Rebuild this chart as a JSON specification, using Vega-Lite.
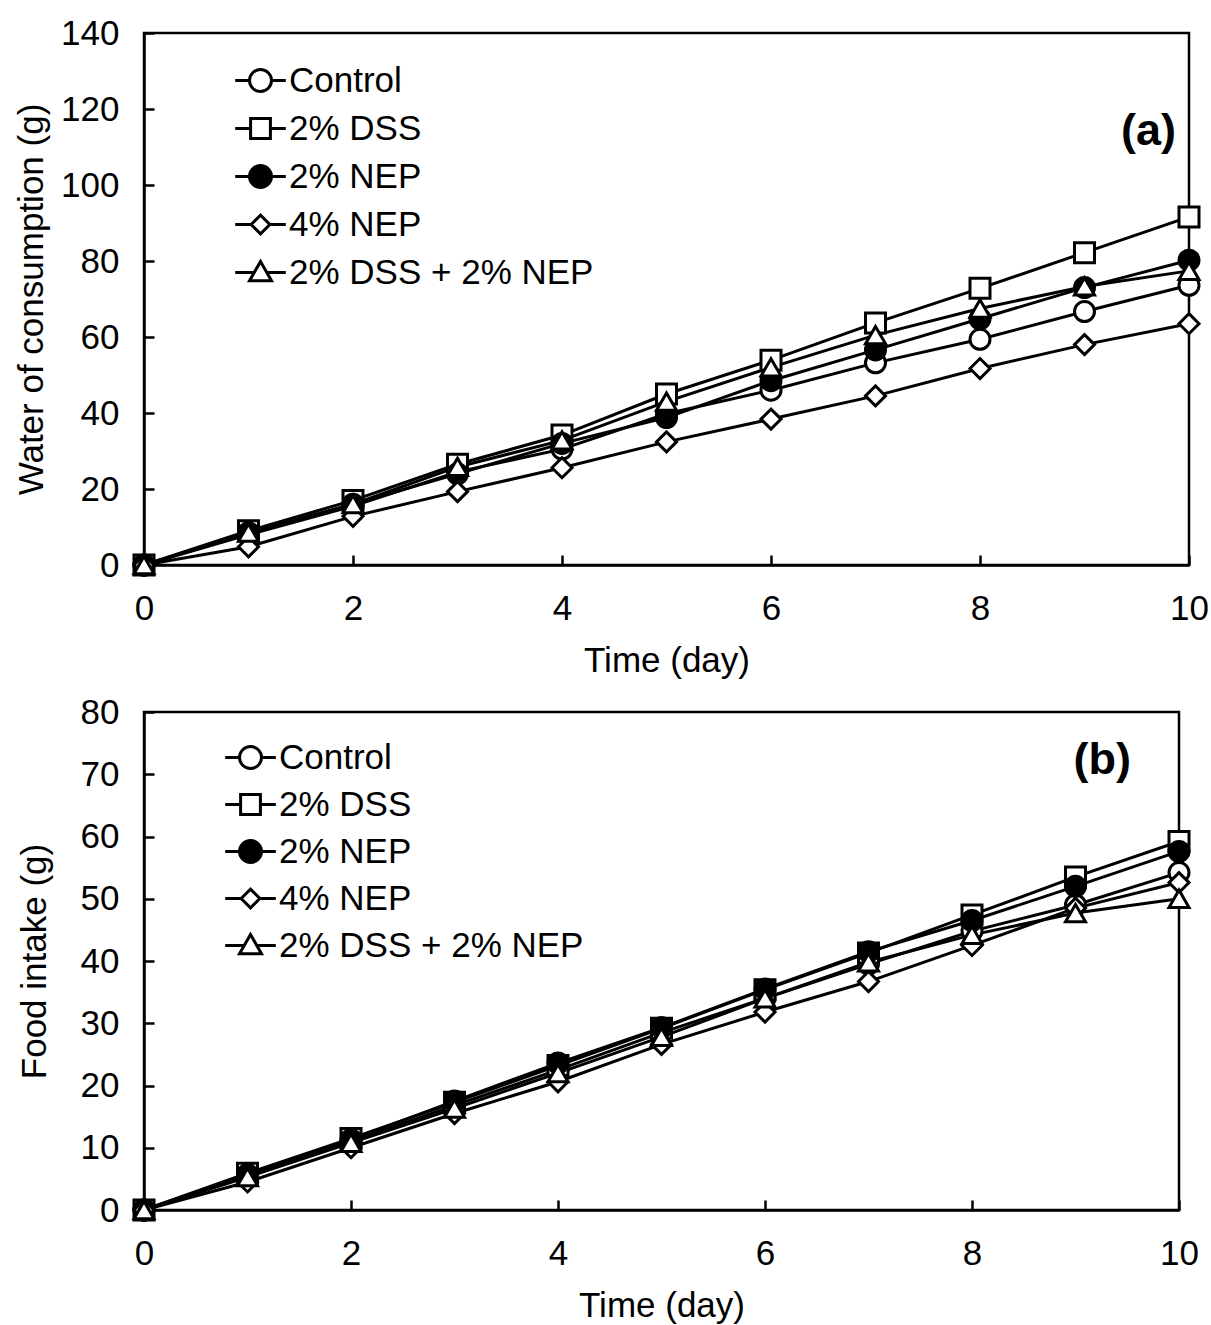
{
  "$schema": "https://vega.github.io/schema/vega-lite/v6.json",
  "padding": {"left": 13, "top": 14, "right": 0, "bottom": 0},
  "background": "white",
  "config": {
    "font": "Liberation Sans",
    "view": {"stroke": "black", "strokeWidth": 2.5},
    "axis": {
      "grid": false,
      "domainColor": "black", "domainWidth": 2.5,
      "tickColor": "black", "tickWidth": 2.5, "tickSize": -10,
      "labelFontSize": 35, "labelColor": "black",
      "titleFontSize": 35, "titleFontWeight": "normal", "titleColor": "black"
    },
    "axisX": {"labelPadding": 36, "titlePadding": 17, "labelFlush": false, "format": "d"},
    "axisY": {"labelPadding": 35, "titlePadding": 11}
  },
  "datasets": {
    "water": [
      {"day":0,"group":"Control","value":0},{"day":1,"group":"Control","value":8},{"day":2,"group":"Control","value":15.5},{"day":3,"group":"Control","value":24.5},{"day":4,"group":"Control","value":30.5},{"day":5,"group":"Control","value":39.8},{"day":6,"group":"Control","value":46},{"day":7,"group":"Control","value":53.2},{"day":8,"group":"Control","value":59.4},{"day":9,"group":"Control","value":66.7},{"day":10,"group":"Control","value":73.6},
      {"day":0,"group":"2% DSS","value":0},{"day":1,"group":"2% DSS","value":9},{"day":2,"group":"2% DSS","value":17},{"day":3,"group":"2% DSS","value":26.5},{"day":4,"group":"2% DSS","value":34.2},{"day":5,"group":"2% DSS","value":45},{"day":6,"group":"2% DSS","value":53.9},{"day":7,"group":"2% DSS","value":63.7},{"day":8,"group":"2% DSS","value":72.8},{"day":9,"group":"2% DSS","value":82.2},{"day":10,"group":"2% DSS","value":91.6},
      {"day":0,"group":"2% NEP","value":0},{"day":1,"group":"2% NEP","value":8.5},{"day":2,"group":"2% NEP","value":16},{"day":3,"group":"2% NEP","value":24},{"day":4,"group":"2% NEP","value":32},{"day":5,"group":"2% NEP","value":38.8},{"day":6,"group":"2% NEP","value":48.5},{"day":7,"group":"2% NEP","value":56.6},{"day":8,"group":"2% NEP","value":64.8},{"day":9,"group":"2% NEP","value":73},{"day":10,"group":"2% NEP","value":80.2},
      {"day":0,"group":"4% NEP","value":0},{"day":1,"group":"4% NEP","value":4.8},{"day":2,"group":"4% NEP","value":12.8},{"day":3,"group":"4% NEP","value":19.3},{"day":4,"group":"4% NEP","value":25.6},{"day":5,"group":"4% NEP","value":32.4},{"day":6,"group":"4% NEP","value":38.4},{"day":7,"group":"4% NEP","value":44.5},{"day":8,"group":"4% NEP","value":51.7},{"day":9,"group":"4% NEP","value":58},{"day":10,"group":"4% NEP","value":63.5},
      {"day":0,"group":"2% DSS + 2% NEP","value":0},{"day":1,"group":"2% DSS + 2% NEP","value":8.5},{"day":2,"group":"2% DSS + 2% NEP","value":16},{"day":3,"group":"2% DSS + 2% NEP","value":25.8},{"day":4,"group":"2% DSS + 2% NEP","value":32.8},{"day":5,"group":"2% DSS + 2% NEP","value":43},{"day":6,"group":"2% DSS + 2% NEP","value":52},{"day":7,"group":"2% DSS + 2% NEP","value":60.5},{"day":8,"group":"2% DSS + 2% NEP","value":67.5},{"day":9,"group":"2% DSS + 2% NEP","value":73.3},{"day":10,"group":"2% DSS + 2% NEP","value":77.4}
    ],
    "food": [
      {"day":0,"group":"Control","value":0},{"day":1,"group":"Control","value":5.5},{"day":2,"group":"Control","value":11},{"day":3,"group":"Control","value":16.8},{"day":4,"group":"Control","value":22.5},{"day":5,"group":"Control","value":28.5},{"day":6,"group":"Control","value":34},{"day":7,"group":"Control","value":39.5},{"day":8,"group":"Control","value":44.8},{"day":9,"group":"Control","value":49},{"day":10,"group":"Control","value":54.2},
      {"day":0,"group":"2% DSS","value":0},{"day":1,"group":"2% DSS","value":5.9},{"day":2,"group":"2% DSS","value":11.5},{"day":3,"group":"2% DSS","value":17.3},{"day":4,"group":"2% DSS","value":23.2},{"day":5,"group":"2% DSS","value":29.2},{"day":6,"group":"2% DSS","value":35.4},{"day":7,"group":"2% DSS","value":41.3},{"day":8,"group":"2% DSS","value":47.4},{"day":9,"group":"2% DSS","value":53.5},{"day":10,"group":"2% DSS","value":59.2},
      {"day":0,"group":"2% NEP","value":0},{"day":1,"group":"2% NEP","value":5.7},{"day":2,"group":"2% NEP","value":11.3},{"day":3,"group":"2% NEP","value":17.5},{"day":4,"group":"2% NEP","value":23.6},{"day":5,"group":"2% NEP","value":29.3},{"day":6,"group":"2% NEP","value":35.5},{"day":7,"group":"2% NEP","value":41.5},{"day":8,"group":"2% NEP","value":46.5},{"day":9,"group":"2% NEP","value":52},{"day":10,"group":"2% NEP","value":57.6},
      {"day":0,"group":"4% NEP","value":0},{"day":1,"group":"4% NEP","value":4.5},{"day":2,"group":"4% NEP","value":10},{"day":3,"group":"4% NEP","value":15.5},{"day":4,"group":"4% NEP","value":20.6},{"day":5,"group":"4% NEP","value":26.6},{"day":6,"group":"4% NEP","value":31.8},{"day":7,"group":"4% NEP","value":36.7},{"day":8,"group":"4% NEP","value":42.5},{"day":9,"group":"4% NEP","value":48.5},{"day":10,"group":"4% NEP","value":52.6},
      {"day":0,"group":"2% DSS + 2% NEP","value":0},{"day":1,"group":"2% DSS + 2% NEP","value":5.3},{"day":2,"group":"2% DSS + 2% NEP","value":10.8},{"day":3,"group":"2% DSS + 2% NEP","value":16.3},{"day":4,"group":"2% DSS + 2% NEP","value":22},{"day":5,"group":"2% DSS + 2% NEP","value":27.8},{"day":6,"group":"2% DSS + 2% NEP","value":34},{"day":7,"group":"2% DSS + 2% NEP","value":39.8},{"day":8,"group":"2% DSS + 2% NEP","value":44.2},{"day":9,"group":"2% DSS + 2% NEP","value":47.7},{"day":10,"group":"2% DSS + 2% NEP","value":50}
    ]
  },
  "vconcat": [
    {
      "width": 1045, "height": 532,
      "title": {"text": "(a)", "anchor": "end", "frame": "group", "offset": -174, "dx": -13, "fontSize": 45, "fontWeight": "bold", "baseline": "alphabetic", "color": "black"},
      "data": {"name": "water"},
      "layer": [
        {
          "mark": {"type": "line", "stroke": "black", "strokeWidth": 3, "clip": false},
          "encoding": {
            "x": {"field": "day", "type": "quantitative", "scale": {"domain": [0, 10], "nice": false}, "axis": {"values": [0, 2, 4, 6, 8, 10], "title": "Time (day)"}},
            "y": {"field": "value", "type": "quantitative", "scale": {"domain": [0, 140], "nice": false}, "axis": {"values": [0, 20, 40, 60, 80, 100, 120, 140], "title": "Water of consumption (g)"}},
            "detail": {"field": "group", "type": "nominal"}
          }
        },
        {
          "mark": {"type": "point", "filled": true, "stroke": "black", "strokeWidth": 3, "size": 400, "opacity": 1, "clip": false},
          "encoding": {
            "x": {"field": "day", "type": "quantitative"},
            "y": {"field": "value", "type": "quantitative"},
            "shape": {"field": "group", "type": "nominal", "scale": {"domain": ["Control", "2% DSS", "2% NEP", "4% NEP", "2% DSS + 2% NEP"], "range": ["circle", "square", "circle", "diamond", "triangle-up"]}, "legend": null},
            "fill": {"field": "group", "type": "nominal", "scale": {"domain": ["Control", "2% DSS", "2% NEP", "4% NEP", "2% DSS + 2% NEP"], "range": ["white", "white", "black", "white", "white"]}, "legend": null}
          }
        },
        {
          "transform": [{"filter": "datum.day < 0"}],
          "mark": {"type": "point", "filled": true, "stroke": "black", "strokeWidth": 3, "opacity": 1},
          "encoding": {
            "x": {"field": "day", "type": "quantitative"},
            "y": {"field": "value", "type": "quantitative"},
            "shape": {"field": "group", "type": "nominal",
              "scale": {"domain": ["Control", "2% DSS", "2% NEP", "4% NEP", "2% DSS + 2% NEP"],
                "range": ["M-2.3,0L-1,0M1,0A1,1,0,1,1,-1,0A1,1,0,1,1,1,0ZM1,0L2.3,0", "M-2.3,0L-0.9,0M-0.9,-0.9L0.9,-0.9L0.9,0.9L-0.9,0.9ZM0.9,0L2.3,0", "M-2.3,0L-1,0M1,0A1,1,0,1,1,-1,0A1,1,0,1,1,1,0ZM1,0L2.3,0", "M-2.3,0L-0.85,0M-0.85,0L0,-0.85L0.85,0L0,0.85ZM0.85,0L2.3,0", "M-2.3,0L-0.571,0M0,-1L1,0.75L-1,0.75ZM0.571,0L2.3,0"]},
              "legend": {"title": null, "orient": "none", "legendX": 99, "legendY": 30, "padding": 0, "symbolSize": 484, "symbolStrokeWidth": 3, "symbolStrokeColor": "black", "symbolOpacity": 1, "labelFontSize": 35, "labelColor": "black", "labelOffset": 11, "rowPadding": 12, "labelLimit": 500,
                "encode": {"symbols": {"update": {"stroke": {"value": "black"}, "strokeWidth": {"value": 3}, "opacity": {"value": 1}}}}}},
            "fill": {"field": "group", "type": "nominal",
              "scale": {"domain": ["Control", "2% DSS", "2% NEP", "4% NEP", "2% DSS + 2% NEP"], "range": ["white", "white", "black", "white", "white"]},
              "legend": {"title": null, "orient": "none", "legendX": 99, "legendY": 30, "padding": 0, "symbolSize": 484, "symbolStrokeWidth": 3, "symbolStrokeColor": "black", "symbolOpacity": 1, "labelFontSize": 35, "labelColor": "black", "labelOffset": 11, "rowPadding": 12, "labelLimit": 500,
                "encode": {"symbols": {"update": {"stroke": {"value": "black"}, "strokeWidth": {"value": 3}, "opacity": {"value": 1}}}}}}
          }
        }
      ],
      "resolve": {"scale": {"shape": "independent", "fill": "independent"}}
    },
    {
      "width": 1035, "height": 498,
      "title": {"text": "(b)", "anchor": "end", "frame": "group", "offset": -124, "dx": -48, "fontSize": 45, "fontWeight": "bold", "baseline": "alphabetic", "color": "black"},
      "data": {"name": "food"},
      "layer": [
        {
          "mark": {"type": "line", "stroke": "black", "strokeWidth": 3, "clip": false},
          "encoding": {
            "x": {"field": "day", "type": "quantitative", "scale": {"domain": [0, 10], "nice": false}, "axis": {"values": [0, 2, 4, 6, 8, 10], "title": "Time (day)"}},
            "y": {"field": "value", "type": "quantitative", "scale": {"domain": [0, 80], "nice": false}, "axis": {"values": [0, 10, 20, 30, 40, 50, 60, 70, 80], "title": "Food intake (g)", "titlePadding": 28}},
            "detail": {"field": "group", "type": "nominal"}
          }
        },
        {
          "mark": {"type": "point", "filled": true, "stroke": "black", "strokeWidth": 3, "size": 400, "opacity": 1, "clip": false},
          "encoding": {
            "x": {"field": "day", "type": "quantitative"},
            "y": {"field": "value", "type": "quantitative"},
            "shape": {"field": "group", "type": "nominal", "scale": {"domain": ["Control", "2% DSS", "2% NEP", "4% NEP", "2% DSS + 2% NEP"], "range": ["circle", "square", "circle", "diamond", "triangle-up"]}, "legend": null},
            "fill": {"field": "group", "type": "nominal", "scale": {"domain": ["Control", "2% DSS", "2% NEP", "4% NEP", "2% DSS + 2% NEP"], "range": ["white", "white", "black", "white", "white"]}, "legend": null}
          }
        },
        {
          "transform": [{"filter": "datum.day < 0"}],
          "mark": {"type": "point", "filled": true, "stroke": "black", "strokeWidth": 3, "opacity": 1},
          "encoding": {
            "x": {"field": "day", "type": "quantitative"},
            "y": {"field": "value", "type": "quantitative"},
            "shape": {"field": "group", "type": "nominal",
              "scale": {"domain": ["Control", "2% DSS", "2% NEP", "4% NEP", "2% DSS + 2% NEP"],
                "range": ["M-2.3,0L-1,0M1,0A1,1,0,1,1,-1,0A1,1,0,1,1,1,0ZM1,0L2.3,0", "M-2.3,0L-0.9,0M-0.9,-0.9L0.9,-0.9L0.9,0.9L-0.9,0.9ZM0.9,0L2.3,0", "M-2.3,0L-1,0M1,0A1,1,0,1,1,-1,0A1,1,0,1,1,1,0ZM1,0L2.3,0", "M-2.3,0L-0.85,0M-0.85,0L0,-0.85L0.85,0L0,0.85ZM0.85,0L2.3,0", "M-2.3,0L-0.571,0M0,-1L1,0.75L-1,0.75ZM0.571,0L2.3,0"]},
              "legend": {"title": null, "orient": "none", "legendX": 89, "legendY": 28, "padding": 0, "symbolSize": 484, "symbolStrokeWidth": 3, "symbolStrokeColor": "black", "symbolOpacity": 1, "labelFontSize": 35, "labelColor": "black", "labelOffset": 11, "rowPadding": 11, "labelLimit": 500,
                "encode": {"symbols": {"update": {"stroke": {"value": "black"}, "strokeWidth": {"value": 3}, "opacity": {"value": 1}}}}}},
            "fill": {"field": "group", "type": "nominal",
              "scale": {"domain": ["Control", "2% DSS", "2% NEP", "4% NEP", "2% DSS + 2% NEP"], "range": ["white", "white", "black", "white", "white"]},
              "legend": {"title": null, "orient": "none", "legendX": 89, "legendY": 28, "padding": 0, "symbolSize": 484, "symbolStrokeWidth": 3, "symbolStrokeColor": "black", "symbolOpacity": 1, "labelFontSize": 35, "labelColor": "black", "labelOffset": 11, "rowPadding": 11, "labelLimit": 500,
                "encode": {"symbols": {"update": {"stroke": {"value": "black"}, "strokeWidth": {"value": 3}, "opacity": {"value": 1}}}}}}
          }
        }
      ],
      "resolve": {"scale": {"shape": "independent", "fill": "independent"}}
    }
  ],
  "spacing": 13,
  "resolve": {"scale": {"x": "independent", "y": "independent", "shape": "independent", "fill": "independent"}, "legend": {"shape": "independent", "fill": "independent"}}
}
